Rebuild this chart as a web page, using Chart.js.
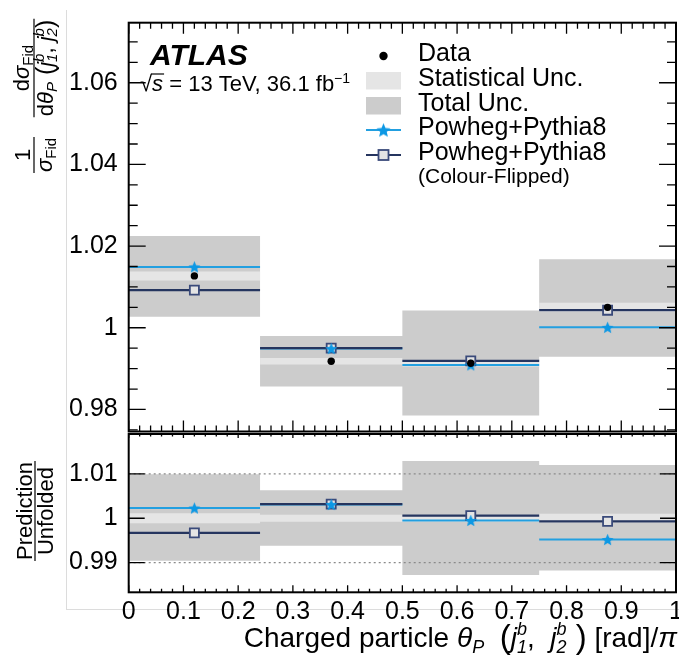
<!DOCTYPE html>
<html>
<head>
<meta charset="utf-8">
<script src="https://cdn.jsdelivr.net/npm/chart.js@4"></script>
<style>
    html, body { margin: 0; padding: 0; background: #fff; }
    #wrap { position: relative; width: 679px; height: 658px; }
    #frame {
        position: absolute; left: 66px; top: 10px; width: 613px; height: 600px;
        border-left: 1px solid #dcdcdc; border-bottom: 1px solid #dcdcdc; box-sizing: border-box;
    }
    #topPad { position: absolute; left: 0; top: 0; }
    #ratioPad { position: absolute; left: 0; top: 433px; }
</style>
</head>
<body>
<div id="wrap">
    <div id="frame"></div>
    <canvas id="topPad" width="679" height="433"></canvas>
    <canvas id="ratioPad" width="679" height="225"></canvas>
</div>
<script>
// ============================================
// DATA
// ============================================

// theta_P / pi binning
const binEdges   = [0, 0.24, 0.5, 0.75, 1];
const binCentres = [0.12, 0.37, 0.625, 0.875];

// upper pad : normalised fiducial cross-section
const dataVals  = [1.0127, 0.9918, 0.9913, 1.0050];
const statUnc   = [0.0011, 0.0008, 0.0008, 0.0011];
const totalHigh = [1.0225, 0.9980, 1.0042, 1.0168];
const totalLow  = [1.0027, 0.9856, 0.9785, 0.9929];
const powheg    = [1.0149, 0.9949, 0.9909, 1.0001];
const powhegCF  = [1.0092, 0.9950, 0.9919, 1.0043];

// lower pad : prediction / unfolded
const ratioPowheg  = [1.0023, 1.0031, 0.9995, 0.9952];
const ratioCF      = [0.9967, 1.0032, 1.0006, 0.9993];
const ratioStat    = [0.0011, 0.0008, 0.0008, 0.0010];
const ratioTotHigh = [1.0099, 1.0063, 1.0129, 1.0120];
const ratioTotLow  = [0.9904, 0.9938, 0.9872, 0.9882];
const ratioGuides  = [1.01, 0.99];

// tick labels
const xTickVals     = [0, 0.1, 0.2, 0.3, 0.4, 0.5, 0.6, 0.7, 0.8, 0.9, 1];
const xTickLabels   = ['0', '0.1', '0.2', '0.3', '0.4', '0.5', '0.6', '0.7', '0.8', '0.9', '1'];
const topTickVals   = [0.98, 1, 1.02, 1.04, 1.06];
const topTickLabels = ['0.98', '1', '1.02', '1.04', '1.06'];
const ratioTickVals   = [0.99, 1, 1.01];
const ratioTickLabels = ['0.99', '1', '1.01'];

// ============================================
// STYLE
// ============================================
const FONT = '"Liberation Sans", Arial, Helvetica, sans-serif';
const GREY_TOT = '#cccccc';
const GREY_STAT = '#e5e5e5';
const LIGHT_BLUE = '#229fe0';
const STAR_BLUE = '#0d98e4';
const DARK_BLUE = '#25355f';
const SQUARE_EDGE = '#3a4a7a';
const SQUARE_FILL = '#e4e4e4';

function starImage(r, color) {
    const c = document.createElement('canvas');
    const s = Math.ceil(2 * r + 2);
    c.width = c.height = s;
    const g = c.getContext('2d');
    g.translate(s / 2, s / 2 + r * 0.1);
    g.beginPath();
    for (let k = 0; k < 10; k++) {
        const rad = k % 2 ? r * 0.45 : r;
        const a = -Math.PI / 2 + k * Math.PI / 5;
        g.lineTo(rad * Math.cos(a), rad * Math.sin(a));
    }
    g.closePath();
    g.fillStyle = color;
    g.fill();
    return c;
}
const STAR = starImage(6.3, STAR_BLUE);
const STAR_LEG = starImage(7.5, STAR_BLUE);

// ============================================
// POINT BUILDERS
// ============================================
function stepPoints(vals) {
    const pts = vals.map((v, i) => ({ x: binEdges[i], y: v }));
    pts.push({ x: binEdges[vals.length], y: vals[vals.length - 1] });
    return pts;
}

function segPoints(vals) {
    const pts = [];
    vals.forEach((v, i) => {
        if (i) pts.push({ x: binEdges[i], y: null });
        pts.push({ x: binEdges[i], y: v }, { x: binEdges[i + 1], y: v });
    });
    return pts;
}

function centrePoints(vals) {
    return vals.map((v, i) => ({ x: binCentres[i], y: v }));
}

// 'before' keeps each bin at its own value up to the next edge
function band(high, low, color, order) {
    return [
        { data: stepPoints(high), stepped: 'before', fill: '+1', backgroundColor: color,
          borderColor: 'transparent', borderWidth: 0, pointRadius: 0, order: order },
        { data: stepPoints(low), stepped: 'before', fill: false,
          borderColor: 'transparent', borderWidth: 0, pointRadius: 0, order: order + 1 }
    ];
}

function hLine(vals, color, width, order) {
    return { data: segPoints(vals), borderColor: color, borderWidth: width, pointRadius: 0,
             fill: false, spanGaps: false, order: order };
}

function markers(vals, style, order) {
    return Object.assign({ data: centrePoints(vals), showLine: false, fill: false, order: order }, style);
}

const starStyle = { pointStyle: STAR, pointRadius: 6 };
const squareStyle = { pointStyle: 'rect', pointRadius: 6.4, pointBackgroundColor: SQUARE_FILL,
                      pointBorderColor: SQUARE_EDGE, pointBorderWidth: 1.8 };
const dotStyle = { pointStyle: 'circle', pointRadius: 3.7, pointBackgroundColor: '#000',
                   pointBorderColor: '#000', pointBorderWidth: 0 };

// no extra room for half labels at the axis ends
function fixedWidth(w) {
    return s => { s.width = w; s.paddingTop = 0; s.paddingBottom = 0; };
}

// ============================================
// TEXT HELPERS
// ============================================
// parts: {t, f, dy} or {sup, sub, f, dyUp, dyDown}
function richWidth(ctx, parts) {
    let w = 0;
    parts.forEach(p => {
        ctx.font = p.f;
        if (p.t !== undefined) w += ctx.measureText(p.t).width;
        else w += Math.max(ctx.measureText(p.sup).width, ctx.measureText(p.sub).width);
    });
    return w;
}

function drawRich(ctx, x, y, parts) {
    ctx.textAlign = 'left';
    ctx.textBaseline = 'alphabetic';
    parts.forEach(p => {
        ctx.font = p.f;
        if (p.t !== undefined) {
            ctx.fillText(p.t, x, y + (p.dy || 0));
            x += ctx.measureText(p.t).width;
        } else {
            ctx.fillText(p.sup, x, y + p.dyUp);
            ctx.fillText(p.sub, x, y + p.dyDown);
            x += Math.max(ctx.measureText(p.sup).width, ctx.measureText(p.sub).width);
        }
    });
    return x;
}

// fraction in a frame rotated by -90deg; u runs up the page, v runs right
function drawFrac(ctx, uCentre, vBar, num, den, numGap, denBase) {
    const wn = richWidth(ctx, num), wd = richWidth(ctx, den);
    const w = Math.max(wn, wd);
    drawRich(ctx, uCentre - wn / 2, vBar - numGap, num);
    drawRich(ctx, uCentre - wd / 2, vBar + denBase, den);
    ctx.beginPath();
    ctx.moveTo(uCentre - w / 2 - 1, vBar);
    ctx.lineTo(uCentre + w / 2 + 1, vBar);
    ctx.lineWidth = 1.2;
    ctx.strokeStyle = '#000';
    ctx.stroke();
    return w;
}

// ============================================
// AXES DECORATION (inward ticks + frame)
// ============================================
function drawFrameTicks(chart, spec) {
    const { ctx, chartArea: a, scales: { x, y } } = chart;
    ctx.save();
    ctx.strokeStyle = '#000';
    ctx.lineWidth = 1.3;
    ctx.beginPath();
    for (let k = 0; k <= 50; k++) {
        const major = k % 5 === 0;
        const px = x.getPixelForValue(k * 0.02);
        const lb = major ? spec.xMajB : spec.xMinB;
        const lt = major ? spec.xMajT : spec.xMinT;
        if (lb) { ctx.moveTo(px, a.bottom); ctx.lineTo(px, a.bottom - lb); }
        if (lt) { ctx.moveTo(px, a.top); ctx.lineTo(px, a.top + lt); }
    }
    const k0 = Math.ceil(y.min / spec.yStep - 1e-6), k1 = Math.floor(y.max / spec.yStep + 1e-6);
    for (let k = k0; k <= k1; k++) {
        const v = k * spec.yStep;
        const q = v / spec.yMajorStep;
        const major = Math.abs(q - Math.round(q)) < 1e-6;
        const len = major ? spec.yMaj : spec.yMin;
        if (!len) continue;
        const py = y.getPixelForValue(v);
        ctx.moveTo(a.left, py); ctx.lineTo(a.left + len, py);
        ctx.moveTo(a.right, py); ctx.lineTo(a.right - len, py);
    }
    ctx.stroke();
    ctx.lineWidth = 2;
    ctx.strokeRect(a.left, a.top, a.right - a.left, a.bottom - a.top);
    ctx.restore();
}

// ============================================
// UPPER PAD
// ============================================
const topDecor = {
    id: 'topDecor',
    afterDraw(chart) {
        drawFrameTicks(chart, { xMajB: 11, xMinB: 6, xMajT: 11, xMinT: 6,
                                yStep: 0.005, yMajorStep: 0.02, yMaj: 17, yMin: 9 });
        const ctx = chart.ctx;
        ctx.save();
        ctx.fillStyle = '#000';

        // ATLAS label
        ctx.font = 'italic bold 30px ' + FONT;
        ctx.textBaseline = 'alphabetic';
        ctx.fillText('ATLAS', 150, 65);

        // sqrt(s), luminosity
        const base = 22;
        let xs = 140;
        ctx.font = base + 'px ' + FONT;
        ctx.fillText('\u221A', xs, 91);
        xs += ctx.measureText('\u221A').width;
        ctx.font = 'italic ' + base + 'px ' + FONT;
        const sw = ctx.measureText('s').width;
        ctx.fillText('s', xs, 91);
        ctx.beginPath();
        ctx.moveTo(xs - 1, 74); ctx.lineTo(xs + sw + 1, 74);
        ctx.lineWidth = 1.2; ctx.strokeStyle = '#000'; ctx.stroke();
        xs += sw;
        drawRich(ctx, xs, 91, [
            { t: ' = 13 TeV, 36.1 fb', f: base + 'px ' + FONT },
            { t: '\u22121', f: '14px ' + FONT, dy: -8 }
        ]);

        // legend
        const lx = 366, lw = 35, tx = 418;
        ctx.beginPath();
        ctx.arc(lx + lw / 2, 56, 4.2, 0, Math.PI * 2);
        ctx.fill();
        ctx.fillStyle = GREY_STAT;
        ctx.fillRect(lx, 72, lw, 17.5);
        ctx.fillStyle = GREY_TOT;
        ctx.fillRect(lx, 97, lw, 17.5);

        ctx.lineWidth = 2;
        ctx.strokeStyle = LIGHT_BLUE;
        ctx.beginPath(); ctx.moveTo(lx, 130); ctx.lineTo(lx + lw, 130); ctx.stroke();
        ctx.drawImage(STAR_LEG, lx + lw / 2 - STAR_LEG.width / 2, 130 - STAR_LEG.height / 2);

        ctx.strokeStyle = DARK_BLUE;
        ctx.lineWidth = 2.2;
        ctx.beginPath(); ctx.moveTo(lx, 155); ctx.lineTo(lx + lw, 155); ctx.stroke();
        ctx.fillStyle = SQUARE_FILL;
        ctx.fillRect(lx + lw / 2 - 5, 150, 10, 10);
        ctx.strokeStyle = SQUARE_EDGE;
        ctx.lineWidth = 1.8;
        ctx.strokeRect(lx + lw / 2 - 5, 150, 10, 10);

        ctx.fillStyle = '#000';
        ctx.font = '25px ' + FONT;
        ctx.fillText('Data', tx, 61);
        ctx.fillText('Statistical Unc.', tx, 86);
        ctx.fillText('Total Unc.', tx, 111);
        ctx.fillText('Powheg+Pythia8', tx, 135);
        ctx.fillText('Powheg+Pythia8', tx, 160);
        ctx.font = '21px ' + FONT;
        ctx.fillText('(Colour-Flipped)', tx, 183);

        // y title : 1/sigma dsigma/dtheta
        ctx.rotate(-Math.PI / 2);
        const F = '22px ' + FONT, FI = 'italic 22px ' + FONT;
        const S = '15px ' + FONT, SI = 'italic 15px ' + FONT;
        const PAR = '25px ' + FONT;
        drawFrac(ctx, -155, 34,
            [{ t: '1', f: F }],
            [{ t: '\u03C3', f: FI }, { t: 'Fid', f: S, dy: 4 }], 4, 18);
        drawFrac(ctx, -68, 34,
            [{ t: 'd', f: F }, { t: '\u03C3', f: FI }, { t: 'Fid', f: S, dy: 4 }],
            [{ t: 'd', f: F }, { t: '\u03B8', f: FI }, { t: 'P', f: SI, dy: 4 },
             { t: ' (', f: PAR, dy: 1 }, { t: 'j', f: FI }, { sup: 'b', sub: '1', f: SI, dyUp: -9, dyDown: 4 },
             { t: ', ', f: F }, { t: 'j', f: FI }, { sup: 'b', sub: '2', f: SI, dyUp: -9, dyDown: 4 },
             { t: ')', f: PAR, dy: 1 }], 5, 19);
        ctx.restore();
    }
};

new Chart(document.getElementById('topPad'), {
    type: 'line',
    data: {
        datasets: [
            ...band(totalHigh, totalLow, GREY_TOT, 20),
            ...band(dataVals.map((v, i) => v + statUnc[i]), dataVals.map((v, i) => v - statUnc[i]), GREY_STAT, 16),
            hLine(powheg, LIGHT_BLUE, 2, 12),
            hLine(powhegCF, DARK_BLUE, 2.2, 11),
            markers(powhegCF, squareStyle, 4),
            markers(powheg, starStyle, 3),
            markers(dataVals, dotStyle, 1)
        ]
    },
    options: {
        responsive: false,
        animation: false,
        events: [],
        layout: { autoPadding: false, padding: { top: 22.7, right: 3, bottom: 1.5, left: 0 } },
        plugins: { legend: { display: false }, tooltip: { enabled: false } },
        scales: {
            x: { type: 'linear', min: 0, max: 1, display: false },
            y: {
                min: 0.9746, max: 1.0747,
                afterFit: fixedWidth(128.7),
                afterBuildTicks: s => { s.ticks = topTickVals.map(v => ({ value: v })); },
                grid: { display: false, drawTicks: false },
                border: { display: false },
                ticks: {
                    padding: 11, color: '#000', font: { family: FONT, size: 25 },
                    callback: v => topTickLabels[topTickVals.indexOf(v)]
                }
            }
        }
    },
    plugins: [topDecor]
});

// ============================================
// RATIO PAD
// ============================================
const ratioDecor = {
    id: 'ratioDecor',
    afterDraw(chart) {
        drawFrameTicks(chart, { xMajB: 7, xMinB: 3.5, xMajT: 4, xMinT: 2.5,
                                yStep: 0.01, yMajorStep: 0.01, yMaj: 16, yMin: 0 });
        const ctx = chart.ctx;
        ctx.save();
        ctx.fillStyle = '#000';

        // x title
        const B = '28px ' + FONT, BI = 'italic 28px ' + FONT;
        const si = 'italic 18px ' + FONT;
        const P = '33px ' + FONT;
        const parts = [
            { t: 'Charged particle ', f: B },
            { t: '\u03B8', f: BI }, { t: 'P', f: si, dy: 6 },
            { t: '  ', f: B },
            { t: '(', f: P, dy: 1 },
            { t: 'j', f: BI }, { sup: 'b', sub: '1', f: si, dyUp: -12, dyDown: 6 },
            { t: ',  ', f: B },
            { t: 'j', f: BI }, { sup: 'b', sub: '2', f: si, dyUp: -12, dyDown: 6 },
            { t: ' )', f: P, dy: 1 },
            { t: ' [rad]/', f: B },
            { t: '\u03C0', f: BI }
        ];
        const w = richWidth(ctx, parts);
        drawRich(ctx, 677 - w, 214, parts);

        // y title : prediction / unfolded
        ctx.rotate(-Math.PI / 2);
        drawFrac(ctx, -78, 35,
            [{ t: 'Prediction', f: '22px ' + FONT }],
            [{ t: 'Unfolded', f: '22px ' + FONT }], 3, 18);
        ctx.restore();
    }
};

const guideSets = ratioGuides.map(g => ({
    data: [{ x: 0, y: g }, { x: 1, y: g }],
    borderColor: '#8a8a8a', borderWidth: 1.4, borderDash: [2, 3],
    pointRadius: 0, fill: false, order: 15
}));

new Chart(document.getElementById('ratioPad'), {
    type: 'line',
    data: {
        datasets: [
            ...band(ratioTotHigh, ratioTotLow, GREY_TOT, 20),
            ...guideSets,
            ...band(ratioStat.map(u => 1 + u), ratioStat.map(u => 1 - u), GREY_STAT, 16),
            hLine(ratioPowheg, LIGHT_BLUE, 2, 12),
            hLine(ratioCF, DARK_BLUE, 2.2, 11),
            markers(ratioCF, squareStyle, 4),
            markers(ratioPowheg, starStyle, 3)
        ]
    },
    options: {
        responsive: false,
        animation: false,
        events: [],
        layout: { autoPadding: false, padding: { top: 1, right: 3, bottom: 0, left: 0 } },
        plugins: { legend: { display: false }, tooltip: { enabled: false } },
        scales: {
            x: {
                type: 'linear', min: 0, max: 1,
                afterFit: s => { s.height = 65.7; s.paddingLeft = 0; s.paddingRight = 0; },
                afterBuildTicks: s => { s.ticks = xTickVals.map(v => ({ value: v })); },
                grid: { display: false, drawTicks: false },
                border: { display: false },
                ticks: {
                    padding: 5, color: '#000', autoSkip: false, maxRotation: 0,
                    font: { family: FONT, size: 25 },
                    callback: v => xTickLabels[xTickVals.indexOf(v)]
                }
            },
            y: {
                min: 0.9833, max: 1.0190,
                afterFit: fixedWidth(128.7),
                afterBuildTicks: s => { s.ticks = ratioTickVals.map(v => ({ value: v })); },
                grid: { display: false, drawTicks: false },
                border: { display: false },
                ticks: {
                    padding: 11, color: '#000', font: { family: FONT, size: 25 },
                    callback: v => ratioTickLabels[ratioTickVals.indexOf(v)]
                }
            }
        }
    },
    plugins: [ratioDecor]
});
</script>
</body>
</html>
